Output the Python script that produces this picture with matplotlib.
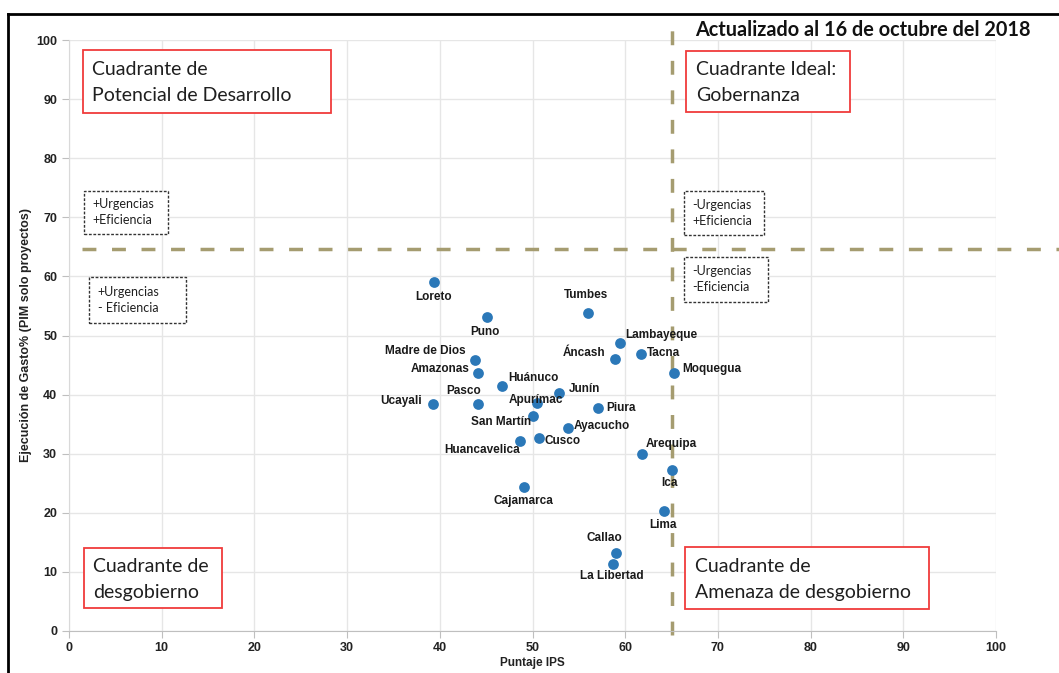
import matplotlib
matplotlib.use("Agg")
import matplotlib.pyplot as plt
from matplotlib.patches import Rectangle
from matplotlib.lines import Line2D

# ---------------- data ----------------
regions = ["Loreto", "Puno", "Tumbes", "Lambayeque", "Áncash", "Tacna", "Moquegua",
           "Madre de Dios", "Amazonas", "Huánuco", "Junín", "Ucayali", "Pasco",
           "Apurímac", "Piura", "San Martín", "Ayacucho", "Cusco", "Huancavelica",
           "Arequipa", "Ica", "Cajamarca", "Lima", "Callao", "La Libertad"]
ips = [39.4, 45.1, 56.0, 59.4, 58.9, 61.7, 65.3,
       43.8, 44.1, 46.7, 52.9, 39.3, 44.1,
       50.5, 57.1, 50.1, 53.8, 50.7, 48.7,
       61.8, 65.0, 49.1, 64.2, 59.0, 58.7]
gasto = [59.0, 53.1, 53.8, 48.8, 46.0, 46.8, 43.6,
         45.8, 43.7, 41.4, 40.3, 38.4, 38.4,
         38.5, 37.7, 36.4, 34.4, 32.7, 32.2,
         30.0, 27.2, 24.3, 20.2, 13.2, 11.2]
x_ticks = list(range(0, 101, 10))
y_ticks = list(range(0, 101, 10))
ips_ref = 65.0
gasto_ref = 64.6
title_text = "Actualizado al 16 de octubre del 2018"
x_label = "Puntaje IPS"
y_label = "Ejecución de Gasto% (PIM solo proyectos)"

# label placement (offset in pixels, alignment)
label_pos = {
    "Loreto": (-1, -15, "center"), "Puno": (-2, -15, "center"),
    "Tumbes": (-2, 18, "center"), "Lambayeque": (6, 8, "left"),
    "Áncash": (-10, 6, "right"), "Tacna": (6, 1, "left"),
    "Moquegua": (8, 4, "left"), "Madre de Dios": (-9, 9, "right"),
    "Amazonas": (-8, 4, "right"), "Huánuco": (6, 8, "left"),
    "Junín": (9, 4, "left"), "Ucayali": (-11, 3, "right"),
    "Pasco": (3, 13, "right"), "Apurímac": (-1, 3, "center"),
    "Piura": (8, 0, "left"), "San Martín": (-2, -6, "right"),
    "Ayacucho": (6, 2, "left"), "Cusco": (6, -3, "left"),
    "Huancavelica": (0, -9, "right"), "Arequipa": (4, 10, "left"),
    "Ica": (-2, -13, "center"), "Cajamarca": (-1, -14, "center"),
    "Lima": (-1, -14, "center"), "Callao": (-12, 15, "center"),
    "La Libertad": (-1, -12, "center"),
}

W, H = 1059, 673
fig = plt.figure(figsize=(W / 100, H / 100), dpi=100)
ax = fig.add_axes([69 / W, 1 - 630.6 / H, (996 - 69) / W, (630.6 - 40.4) / H])
ax.set_xlim(0, 100)
ax.set_ylim(0, 100)

narrow = ["Liberation Sans Narrow", "Liberation Sans", "DejaVu Sans"]
calib = ["Lato", "DejaVu Sans"]

ax.set_xticks(x_ticks)
ax.set_yticks(y_ticks)
ax.grid(True, color="#e6e6e6", lw=1)
ax.set_axisbelow(True)
for s in ["top", "right"]:
    ax.spines[s].set_visible(False)
ax.spines["left"].set_color("#d9d9d9")
ax.spines["bottom"].set_color("#bfbfbf")
ax.tick_params(axis="both", colors="#bfbfbf", length=5, labelcolor="#222222")
for lab in ax.get_xticklabels() + ax.get_yticklabels():
    lab.set_family(narrow)
    lab.set_fontsize(9)
    lab.set_fontweight("bold")

ax.set_xlabel(x_label, family=narrow, fontsize=8.5, fontweight="bold", color="#222222", labelpad=2)
ax.set_ylabel(y_label, family=narrow, fontsize=9, fontweight="bold", color="#222222", labelpad=3)

# reference lines
ref_col = "#a59c70"
ax.add_line(Line2D([ips_ref, ips_ref], [-0.7, 103.5], color=ref_col, lw=2.5,
                   dashes=(4, 4.5), clip_on=False, zorder=1))
ax.add_line(Line2D([1.4, 110], [gasto_ref, gasto_ref], color=ref_col, lw=2.5,
                   dashes=(4, 4.5), clip_on=False, zorder=1))

# points
ax.scatter(ips, gasto, s=60, color="#2b78b8", zorder=3, linewidths=0)

for name, xv, yv in zip(regions, ips, gasto):
    dx, dy, ha = label_pos[name]
    ax.annotate(name, (xv, yv), xytext=(dx * 0.72, dy * 0.72), textcoords="offset points",
                ha=ha, va="center", fontsize=8.5, family=narrow, fontweight="bold",
                color="#1a1a1a", zorder=4)

# quadrant boxes
def box(x0, y0, x1, y1, text, style):
    if style == "red":
        r = Rectangle((x0, y1), x1 - x0, y0 - y1, fill=True, facecolor="white",
                      edgecolor="#f03c3c", lw=1.3, clip_on=False, zorder=2)
        ax.add_patch(r)
        ax.text(x0 + 1.0, (y0 + y1) / 2 - 0.2, text, ha="left", va="center",
                fontsize=14, family=calib, color="#1f1f1f", linespacing=1.65, zorder=3)
    else:
        r = Rectangle((x0, y1), x1 - x0, y0 - y1, fill=True, facecolor="white",
                      edgecolor="#333333", lw=1.0, ls=(0, (2, 1.2)), clip_on=False, zorder=2)
        ax.add_patch(r)
        ax.text(x0 + 0.9, (y0 + y1) / 2, text, ha="left", va="center",
                fontsize=9, family=calib, color="#1f1f1f", linespacing=1.4, zorder=3)

box(1.5, 98.4, 28.3, 87.7, "Cuadrante de\nPotencial de Desarrollo", "red")
box(66.6, 98.2, 84.2, 87.8, "Cuadrante Ideal:\nGobernanza", "red")
box(1.6, 14.0, 16.5, 3.8, "Cuadrante de\ndesgobierno", "red")
box(66.5, 14.1, 92.8, 3.7, "Cuadrante de\nAmenaza de desgobierno", "red")
box(1.6, 74.5, 10.65, 67.2, "+Urgencias\n+Eficiencia", "dash")
box(2.2, 59.9, 12.6, 52.2, "+Urgencias\n- Eficiencia", "dash")
box(66.3, 74.5, 75.0, 67.0, "-Urgencias\n+Eficiencia", "dash")
box(66.3, 63.3, 75.4, 55.7, "-Urgencias\n-Eficiencia", "dash")

# title
fig.text(695 / W, 1 - 30 / H, title_text, ha="left", va="center", fontsize=14.3,
         fontweight="bold", family=calib, color="#111111")

# outer frame (left and top edges)
fig.add_artist(Line2D([8 / W, 8 / W], [0, 1 - 14 / H], color="black", lw=2,
                      transform=fig.transFigure))
fig.add_artist(Line2D([8 / W, 1], [1 - 14 / H, 1 - 14 / H], color="black", lw=2,
                      transform=fig.transFigure))

fig.savefig("out.png", dpi=100)
